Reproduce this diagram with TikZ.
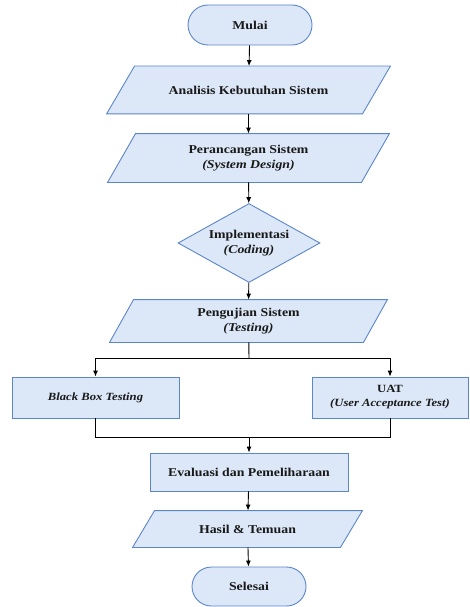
\documentclass[tikz,border=0pt]{standalone}
\usepackage{fontspec}
\setmainfont{Liberation Serif}[FakeStretch=1.15]
\usetikzlibrary{shapes.geometric,shapes.misc,arrows.meta,backgrounds}
\definecolor{boxfill}{HTML}{DCE8F8}
\definecolor{boxline}{HTML}{5B86C9}
\begin{document}
\begin{tikzpicture}[x=1pt,y=1pt,
  base/.style={draw=boxline, fill=boxfill, line width=0.9pt, align=center, inner sep=0pt,
    text=black!90, font=\fontsize{12}{15}\selectfont\bfseries},
  terminal/.style={base, rounded rectangle},
  io/.style={base, rectangle, draw=none, fill=none},
  process/.style={base, rectangle},
  decision/.style={base, diamond, aspect=1.8},
  arr/.style={-{Latex[length=6pt,width=5pt]}, line width=0.9pt}]
\useasboundingbox (0,0) rectangle (469,-607);
\node[terminal, minimum width=124, minimum height=40] (mulai) at (250,-25) {Mulai};
\node[io, minimum width=255, minimum height=47] (analisis) at (248.5,-90) {Analisis Kebutuhan Sistem};
\node[io, minimum width=253, minimum height=48] (rancang) at (248.5,-158) {Perancangan Sistem\\ \itshape (System Design)};
\node[decision, minimum width=142, minimum height=79] (implementasi) at (249,-243) {Implementasi\\ \itshape (Coding)};
\node[io, minimum width=253, minimum height=42] (pengujian) at (248.5,-321) {Pengujian Sistem\\ \itshape (Testing)};
\node[process, minimum width=167, minimum height=41, font=\fontsize{11}{14}\selectfont\bfseries\itshape] (blackbox) at (95.5,-397.5) {Black Box Testing};
\node[process, minimum width=156, minimum height=41, font=\fontsize{11}{14}\selectfont\bfseries] (uat) at (390,-397.5) {UAT\\ \itshape (User Acceptance Test)};
\node[process, minimum width=198, minimum height=38] (evaluasi) at (249,-472) {Evaluasi dan Pemeliharaan};
\node[io, minimum width=207, minimum height=36] (hasil) at (247.5,-529) {Hasil \& Temuan};
\node[terminal, minimum width=114, minimum height=39] (selesai) at (249,-586.5) {Selesai};
\begin{pgfonlayer}{background}
\foreach \n/\s in {analisis/14, rancang/14, pengujian/12, hasil/11}
  \draw[draw=boxline, fill=boxfill, line width=0.9pt]
    ([xshift=-\s pt]\n.south west) -- ([xshift=\s pt]\n.north west)
    -- ([xshift=\s pt]\n.north east) -- ([xshift=-\s pt]\n.south east) -- cycle;
\end{pgfonlayer}
\coordinate (split) at (249,-358);
\coordinate (merge) at (249,-437);
\draw[arr] (mulai) -- (analisis);
\draw[arr] (analisis) -- (rancang);
\draw[arr] (rancang) -- (implementasi);
\draw[arr] (implementasi) -- (pengujian);
\draw[line width=0.9pt] (pengujian) -- (split);
\draw[arr] (split) -| (blackbox.north);
\draw[arr] (split) -| (uat.north);
\draw[line width=0.9pt] (blackbox.south) |- (merge);
\draw[line width=0.9pt] (uat.south) |- (merge);
\draw[arr] (merge) -- (evaluasi);
\draw[arr] (evaluasi) -- (hasil);
\draw[arr] (hasil) -- (selesai);
\end{tikzpicture}
\end{document}
